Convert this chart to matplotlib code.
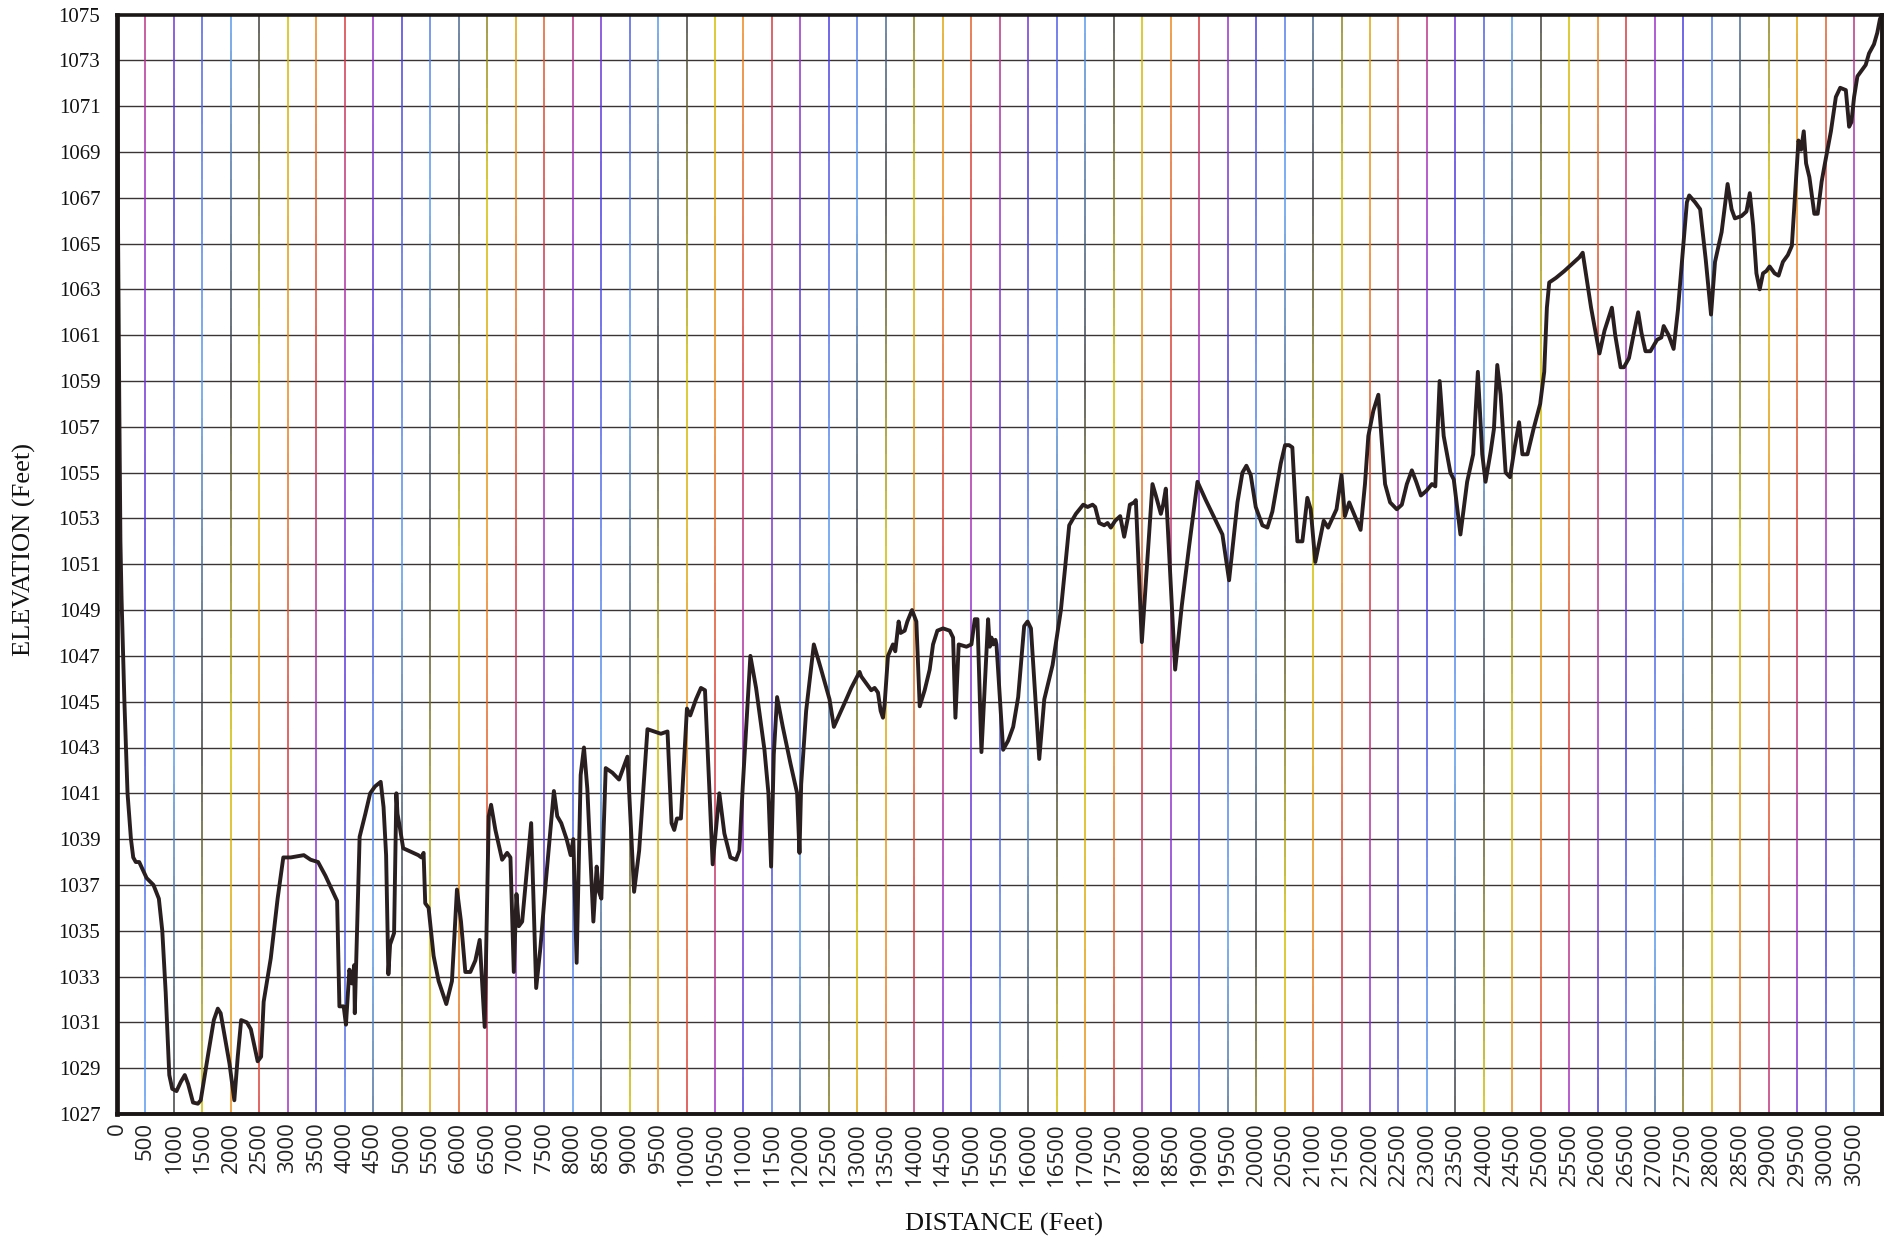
import numpy as np
import matplotlib
matplotlib.use("Agg")
import matplotlib.pyplot as plt
from matplotlib.collections import LineCollection

# Profile survey: distance along the line (ft) and ground elevation (ft)
distance_ft = [
    0, 20, 40, 60, 80, 130, 185, 245, 285, 330, 390, 520, 640, 735, 795,
    855, 918, 970, 1045, 1120, 1190, 1250, 1335, 1420, 1470, 1600, 1700,
    1770, 1820, 1890, 1975, 2060, 2120, 2180, 2280, 2350, 2470, 2530, 2575,
    2700, 2820, 2920, 3050, 3170, 3280, 3400, 3530, 3660, 3865, 3905, 3980,
    4020, 4080, 4125, 4165, 4175, 4260, 4360, 4445, 4530, 4630, 4680, 4725,
    4765, 4795, 4865, 4905, 4925, 4960, 5025, 5115, 5290, 5345, 5383, 5412,
    5471, 5559, 5647, 5782, 5881, 5969, 6040, 6116, 6204, 6292, 6368, 6456,
    6527, 6568, 6644, 6762, 6850, 6908, 6967, 7014, 7055, 7114, 7272, 7360,
    7436, 7524, 7671, 7730, 7800, 7894, 7965, 8012, 8070, 8141, 8199, 8258,
    8364, 8422, 8463, 8504, 8581, 8698, 8815, 8962, 9079, 9168, 9314, 9432,
    9549, 9666, 9737, 9784, 9831, 9901, 10007, 10065, 10165, 10253, 10324,
    10459, 10576, 10664, 10770, 10869, 10928, 10987, 11121, 11221, 11368,
    11438, 11485, 11532, 11590, 11690, 11825, 11942, 11983, 12013, 12100,
    12235, 12364, 12511, 12587, 12804, 12892, 13038, 13068, 13156, 13243,
    13302, 13361, 13408, 13449, 13478, 13537, 13624, 13665, 13724, 13759,
    13830, 13877, 13959, 14035, 14094, 14181, 14269, 14328, 14404, 14504,
    14621, 14680, 14721, 14779, 14914, 15002, 15061, 15108, 15178, 15295,
    15324, 15354, 15383, 15424, 15442, 15559, 15647, 15735, 15823, 15928,
    15988, 16047, 16193, 16281, 16427, 16573, 16649, 16719, 16836, 16965,
    17041, 17129, 17175, 17246, 17333, 17392, 17450, 17526, 17614, 17684,
    17743, 17784, 17860, 17889, 17994, 18181, 18240, 18328, 18368, 18415,
    18579, 18696, 18825, 18971, 19117, 19409, 19526, 19673, 19760, 19830,
    19906, 19994, 20111, 20199, 20286, 20433, 20509, 20579, 20637, 20725,
    20813, 20900, 20959, 21040, 21147, 21188, 21265, 21412, 21500, 21559,
    21635, 21735, 21835, 21912, 21971, 22059, 22147, 22206, 22265, 22353,
    22471, 22559, 22647, 22735, 22812, 22894, 22988, 23088, 23147, 23223,
    23294, 23412, 23471, 23588, 23706, 23812, 23894, 23971, 24029, 24118,
    24176, 24235, 24294, 24382, 24459, 24541, 24618, 24676, 24765, 24871,
    24988, 25059, 25106, 25147, 25265, 25412, 25588, 25676, 25735, 25882,
    26029, 26118, 26247, 26306, 26400, 26459, 26547, 26634, 26709, 26767,
    26837, 26924, 27041, 27116, 27157, 27244, 27331, 27407, 27477, 27564,
    27605, 27709, 27797, 27895, 27988, 28058, 28174, 28279, 28349, 28407,
    28523, 28610, 28669, 28727, 28785, 28843, 28901, 28959, 29017, 29105,
    29174, 29250, 29337, 29407, 29483, 29523, 29570, 29616, 29657, 29715,
    29802, 29860, 29930, 29988, 30093, 30180, 30256, 30355, 30413, 30453,
    30500, 30558, 30645, 30704, 30762, 30849, 30907, 30954, 30990,
]
elevation_ft = [
    1075.0, 1065.0, 1058.0, 1052.0, 1049.5, 1045.0, 1041.0, 1039.0, 1038.2,
    1038.0, 1038.0, 1037.3, 1037.0, 1036.4, 1035.0, 1032.3, 1028.7, 1028.1,
    1028.0, 1028.4, 1028.7, 1028.3, 1027.5, 1027.45, 1027.6, 1029.6, 1031.1,
    1031.6, 1031.4, 1030.4, 1029.2, 1027.6, 1029.5, 1031.1, 1031.0, 1030.7,
    1029.3, 1029.5, 1031.9, 1033.8, 1036.4, 1038.2, 1038.2, 1038.25, 1038.3,
    1038.1, 1038.0, 1037.4, 1036.3, 1031.7, 1031.7, 1030.9, 1033.3, 1032.7,
    1033.5, 1031.4, 1039.1, 1040.1, 1041.0, 1041.3, 1041.5, 1040.4, 1038.3,
    1033.1, 1034.4, 1034.9, 1041.0, 1040.1, 1039.6, 1038.6, 1038.5, 1038.3,
    1038.2, 1038.4, 1036.2, 1036.0, 1033.9, 1032.8, 1031.8, 1032.8, 1036.8,
    1035.4, 1033.2, 1033.2, 1033.7, 1034.6, 1030.8, 1040.0, 1040.5, 1039.4,
    1038.1, 1038.4, 1038.2, 1033.2, 1036.6, 1035.2, 1035.4, 1039.7, 1032.5,
    1034.3, 1037.0, 1041.1, 1040.0, 1039.7, 1039.0, 1038.3, 1039.0, 1033.6,
    1041.8, 1043.0, 1041.2, 1035.4, 1037.8, 1036.7, 1036.4, 1042.1, 1041.9,
    1041.6, 1042.6, 1036.7, 1038.5, 1043.8, 1043.7, 1043.6, 1043.7, 1039.7,
    1039.4, 1039.9, 1039.9, 1044.7, 1044.4, 1045.1, 1045.6, 1045.5, 1037.9,
    1041.0, 1039.25, 1038.2, 1038.1, 1038.5, 1041.3, 1047.0, 1045.6, 1042.9,
    1041.0, 1037.8, 1042.7, 1045.2, 1043.9, 1042.3, 1041.0, 1038.4, 1041.4,
    1044.6, 1047.5, 1046.4, 1045.1, 1043.9, 1045.1, 1045.6, 1046.3, 1046.1,
    1045.8, 1045.5, 1045.6, 1045.4, 1044.6, 1044.3, 1044.9, 1047.0, 1047.5,
    1047.2, 1048.5, 1048.0, 1048.1, 1048.5, 1049.0, 1048.5, 1044.8, 1045.5,
    1046.4, 1047.5, 1048.1, 1048.2, 1048.1, 1047.8, 1044.3, 1047.5, 1047.4,
    1047.5, 1048.6, 1048.6, 1042.8, 1048.6, 1047.4, 1047.8, 1047.5, 1047.7,
    1047.5, 1042.9, 1043.3, 1043.9, 1045.2, 1048.3, 1048.5, 1048.2, 1042.5,
    1045.1, 1046.6, 1049.0, 1050.9, 1052.7, 1053.2, 1053.6, 1053.5, 1053.6,
    1053.5, 1052.8, 1052.7, 1052.8, 1052.6, 1052.9, 1053.1, 1052.2, 1052.95,
    1053.6, 1053.7, 1053.8, 1047.6, 1054.5, 1054.0, 1053.2, 1053.6, 1054.3,
    1046.4, 1049.2, 1051.8, 1054.6, 1053.8, 1052.3, 1050.3, 1053.7, 1055.0,
    1055.3, 1054.9, 1053.5, 1052.7, 1052.6, 1053.3, 1055.4, 1056.2, 1056.2,
    1056.1, 1052.0, 1052.0, 1053.9, 1053.4, 1051.1, 1052.4, 1052.9, 1052.6,
    1053.4, 1054.9, 1053.1, 1053.7, 1053.1, 1052.5, 1054.5, 1056.6, 1057.7,
    1058.4, 1056.4, 1054.5, 1053.7, 1053.4, 1053.6, 1054.5, 1055.1, 1054.6,
    1054.0, 1054.2, 1054.5, 1054.4, 1059.0, 1056.6, 1055.0, 1054.7, 1052.3,
    1054.6, 1055.8, 1059.4, 1055.8, 1054.6, 1055.9, 1056.9, 1059.7, 1058.4,
    1055.0, 1054.8, 1056.1, 1057.2, 1055.8, 1055.8, 1056.9, 1058.0, 1059.4,
    1062.2, 1063.3, 1063.5, 1063.8, 1064.2, 1064.4, 1064.6, 1062.2, 1060.2,
    1061.2, 1062.2, 1061.0, 1059.6, 1059.6, 1060.0, 1061.1, 1062.0, 1061.1,
    1060.3, 1060.3, 1060.8, 1060.9, 1061.4, 1061.0, 1060.4, 1062.1, 1064.2,
    1066.8, 1067.1, 1066.8, 1066.5, 1064.3, 1061.9, 1064.2, 1065.5, 1067.6,
    1066.5, 1066.1, 1066.2, 1066.4, 1067.2, 1065.8, 1063.7, 1063.0, 1063.7,
    1063.8, 1064.0, 1063.7, 1063.6, 1064.2, 1064.5, 1064.9, 1067.9, 1069.5,
    1069.1, 1069.9, 1068.5, 1067.9, 1066.3, 1066.3, 1067.7, 1068.5, 1069.9,
    1071.4, 1071.8, 1071.7, 1070.1, 1070.3, 1071.4, 1072.3, 1072.6, 1072.8,
    1073.3, 1073.7, 1074.2, 1074.8, 1075.0,
]

x_ticks = list(range(0, 30501, 500))
y_ticks = list(range(1027, 1076, 2))

# Printed grid colours drift through the spectrum across the sheet
grid_palette = ["#5a9cf0", "#3c3c3c", "#d2c000", "#ec8a1c", "#d83a3a",
                "#a030c8", "#4a3ae0", "#5a9cf0"]
palette_pos = [0, 1, 2, 3, 4, 5, 6, 7.5]

W, H, DPI = 1894, 1242, 100
fig = plt.figure(figsize=(W / DPI, H / DPI), dpi=DPI)
fig.patch.set_facecolor("white")

ax_left, ax_right = 117 / W, 1882 / W
ax_bottom, ax_top = 1 - 1114 / H, 1 - 14.5 / H
ax = fig.add_axes([ax_left, ax_bottom, ax_right - ax_left, ax_top - ax_bottom])
ax.set_facecolor("white")

x_max = 30990
ax.set_xlim(0, x_max)
ax.set_ylim(1027, 1075)

# Horizontal grid
for yv in y_ticks[1:-1]:
    ax.axhline(yv, color="#3a3434", lw=1.0, zorder=1)

# Vertical grid, each line shaded along its height
rgb = np.array([matplotlib.colors.to_rgb(c) for c in grid_palette])
n_seg = 60
fr = np.linspace(0, 1, n_seg + 1)
segs, cols = [], []
for i, xv in enumerate(x_ticks[1:], start=1):
    ys = 1027 + fr * 48
    for k in range(n_seg):
        fmid = (fr[k] + fr[k + 1]) / 2
        p = ((i - 1) - 3.0 * fmid) % 7.5
        c = [np.interp(p, palette_pos, rgb[:, ch]) for ch in range(3)]
        segs.append([(xv, ys[k]), (xv, ys[k + 1])])
        cols.append(c)
lc = LineCollection(segs, colors=cols, linewidths=1.1, zorder=1)
ax.add_collection(lc)

# Elevation profile
ax.plot(distance_ft, elevation_ft, color="#2a1f20", lw=2.8,
        solid_joinstyle="round", zorder=3)

for side, lw in (("left", 3.4), ("right", 2.8), ("top", 2.6), ("bottom", 2.8)):
    ax.spines[side].set_linewidth(lw)
    ax.spines[side].set_color("#1a1616")
    ax.spines[side].set_zorder(4)

ax.set_xticks(x_ticks)
ax.set_xticklabels([str(v) for v in x_ticks], rotation=90,
                   family="Open Sans", fontsize=16, color="#222222")
ax.set_yticks(y_ticks)
ax.set_yticklabels([str(v) for v in y_ticks],
                   family="Liberation Serif", fontsize=15, color="#111111")
ax.tick_params(axis="x", length=0, pad=6)
ax.tick_params(axis="y", length=0, pad=12)

fig.text(1004 / W, 1 - 1224 / H, "DISTANCE (Feet)", ha="center", va="center",
         family="Liberation Serif", fontsize=19, color="#111111")
fig.text(24 / W, 1 - 550 / H, "ELEVATION (Feet)", ha="center", va="center",
         rotation=90, family="Liberation Serif", fontsize=19, color="#111111")

fig.savefig("out.png", dpi=DPI, facecolor="white")
